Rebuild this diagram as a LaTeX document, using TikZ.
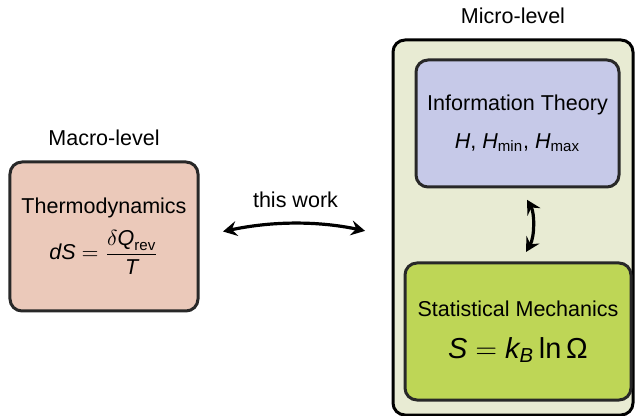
\documentclass[tikz,border=0pt]{standalone}
\usepackage{amsmath}
\usepackage{fontspec}
\setmainfont{Liberation Sans}
\usetikzlibrary{arrows.meta,positioning}
\definecolor{thermofill}{RGB}{235,201,186}
\definecolor{infofill}{RGB}{198,201,232}
\definecolor{statfill}{RGB}{190,214,86}
\definecolor{microfill}{RGB}{232,235,211}
\definecolor{rim}{RGB}{40,40,40}
\newcommand{\mv}[1]{\textit{#1}}
\tikzstyle{level} = [rectangle, rounded corners=6bp, line width=1.5bp, draw=rim, align=center, inner sep=0pt]
\tikzstyle{lbl} = [inner sep=2bp]
\tikzstyle{link} = [line width=1.6bp,{Stealth[length=7bp,width=7.5bp,inset=2.5bp]}-{Stealth[length=7bp,width=7.5bp,inset=2.5bp]}]

\begin{document}
\begin{tikzpicture}[x=0.5bp,y=-0.5bp,font=\fontsize{10.8}{13}\selectfont]
\useasboundingbox (0,0) rectangle (636,416);

\node[level, fill=thermofill, minimum width=94bp, minimum height=74.5bp] (thermo) at (104,236.5)
  {Thermodynamics\\[5bp] $\mv{dS}=\dfrac{\delta\mv{Q}_{\text{rev}}}{\mv{T}}$};
\node[lbl, above=5bp of thermo] (macrolbl) {Macro-level};

\node[level, draw=black, fill=microfill, minimum width=120bp, minimum height=187.5bp] (micro) at (513,227.5) {};
\node[lbl, above=5bp of micro] (microlbl) {Micro-level};

\node[level, fill=infofill, minimum width=101.5bp, minimum height=63.5bp] (info) at (517.5,123.5)
  {Information Theory\\[6bp] $\mv{H}$, $\mv{H}_{\text{min}}$, $\mv{H}_{\text{max}}$};
\node[level, fill=statfill, minimum width=113bp, minimum height=68.5bp] (stat) at (518,331.5)
  {Statistical Mechanics\\[8bp] \fontsize{14.5}{16}\selectfont $\mv{S}=\mv{k}_{\mv{B}}\,\text{ln}\,\text{Ω}$};

% connections
\draw[link, shorten <=12bp, shorten >=13.5bp] (thermo.east) to[bend left=12]
  node[lbl, above=6bp] (worklbl) {this work} (thermo.east -| micro.west);
\draw[link, shorten <=6.5bp, shorten >=5.5bp] ([xshift=1.5bp]info.south) to[bend left=30] ([xshift=1.5bp]info.south |- stat.north);
\end{tikzpicture}
\end{document}
